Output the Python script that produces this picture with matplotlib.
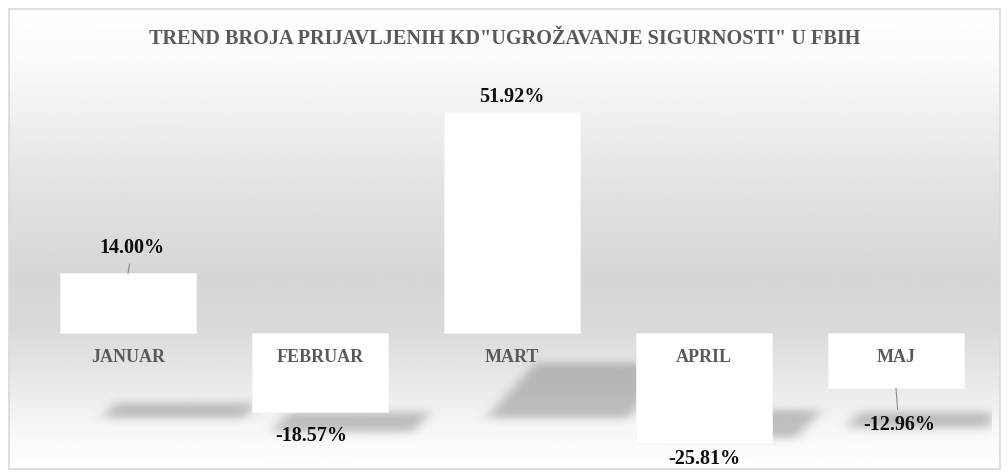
import numpy as np
import matplotlib
matplotlib.use("Agg")
import matplotlib.pyplot as plt
from matplotlib.patches import Rectangle

# data
months = ["JANUAR", "FEBRUAR", "MART", "APRIL", "MAJ"]
trend = [14.00, -18.57, 51.92, -25.81, -12.96]
label_text = ["14.00%", "-18.57%", "51.92%", "-25.81%", "-12.96%"]

title = 'TREND BROJA PRIJAVLJENIH KD"UGROŽAVANJE SIGURNOSTI" U FBIH'

# label placement (points from the bar end) and leader lines
label_offsets = [(3, 18), (-6, -17), (0, 11), (0, -11.5), (2, -26.5)]
leader = [True, False, False, False, True]

plt.rcParams['font.family'] = ['Liberation Serif', 'DejaVu Serif']

W, H = 1008, 475
fig = plt.figure(figsize=(W / 100, H / 100), dpi=100)

# background with vertical gray gradient and thin border
bg = fig.add_axes([0, 0, 1, 1])
bg.set_axis_off()
stops_y = [9, 60, 130, 200, 280, 330, 380, 430, 469]
stops_v = [255, 250, 237, 224, 214, 218, 232, 247, 255]
rows = np.arange(9, 470)
col = np.interp(rows, stops_y, stops_v) / 255.0
grad = np.repeat(col[:, None], 2, axis=1)
bg.imshow(grad, cmap='gray', vmin=0, vmax=1, extent=(9, 1000, 469, 9),
          aspect='auto', interpolation='bilinear', origin='upper')
bg.add_patch(Rectangle((9, 9), 991, 460, fill=False, edgecolor='#d9d9d9', lw=1.2))
bg.set_xlim(0, W)
bg.set_ylim(H, 0)

fig.text(505 / W, 1 - 39 / H, title, ha='center', va='center',
         fontsize=14.6, fontweight='bold', color='#595959')

# main axes: zero line at y=333px, 4.26 px per percent
ax_top, ax_bot, ax_left, ax_right = 100, 455, 32, 992
ax = fig.add_axes([ax_left / W, (H - ax_bot) / H, (ax_right - ax_left) / W, (ax_bot - ax_top) / H])
ax.patch.set_alpha(0)
ymax = (333 - ax_top) / 4.26
ymin = -(ax_bot - 333) / 4.26
x = np.arange(len(months))

# soft perspective shadows below the bars
nx, ny = ax_right - ax_left, ax_bot - ax_top
gx = np.linspace(-0.5, 4.5, nx)
gy = np.linspace(ymin, ymax, ny)
XX, YY = np.meshgrid(gx, gy)
mask = np.zeros_like(XX)
for i, v in enumerate(trend):
    floor = -20 + 0.18 * min(v, 0)
    h = max(0.25 * abs(v), 3.6)
    shift = 0.005 * abs(v)
    x0 = i - 0.355 + (0.22 if v > 0 else 0.1)
    t = (YY - floor) / h
    inside = (t >= 0) & (t <= 1) & (XX >= x0 + shift * t) & (XX <= x0 + 0.74 + shift * t)
    mask[inside] = 1.0


def blur(a, sigma, axis):
    r = int(3 * sigma)
    k = np.exp(-0.5 * (np.arange(-r, r + 1) / sigma) ** 2)
    k /= k.sum()
    return np.apply_along_axis(lambda m: np.convolve(m, k, mode='same'), axis, a)


mask = blur(blur(mask, 6, 1), 4, 0)
shadow = np.zeros((ny, nx, 4))
shadow[..., :3] = 0.42
shadow[..., 3] = 0.4 * mask
ax.imshow(shadow, extent=(-0.5, 4.5, ymin, ymax), origin='lower', aspect='auto', zorder=1)

ax.bar(x, trend, width=0.71, color='white', edgecolor='#f6f6f6', linewidth=0.5, zorder=2)

for i, v in enumerate(trend):
    dx, dy = label_offsets[i]
    arrow = dict(arrowstyle='-', color='#8c8c8c', lw=0.8, shrinkA=2, shrinkB=0) if leader[i] else None
    ax.annotate(label_text[i], xy=(x[i], v), xytext=(dx, dy), textcoords='offset points',
                ha='center', va='center', fontsize=14.5, fontweight='bold', color='#0d0d0d',
                arrowprops=arrow, zorder=4, annotation_clip=False)

ax.set_xticks(x, months)
ax.spines['bottom'].set_position(('data', 0))
for s in ax.spines.values():
    s.set_visible(False)
ax.tick_params(axis='x', length=0, pad=11.5, labelsize=13, labelcolor='#595959')
for lab in ax.get_xticklabels():
    lab.set_fontweight('bold')
ax.xaxis.set_zorder(5)
ax.set_yticks([])
ax.set_xlim(-0.5, 4.5)
ax.set_ylim(ymin, ymax)

fig.savefig("out.png", dpi=100)
